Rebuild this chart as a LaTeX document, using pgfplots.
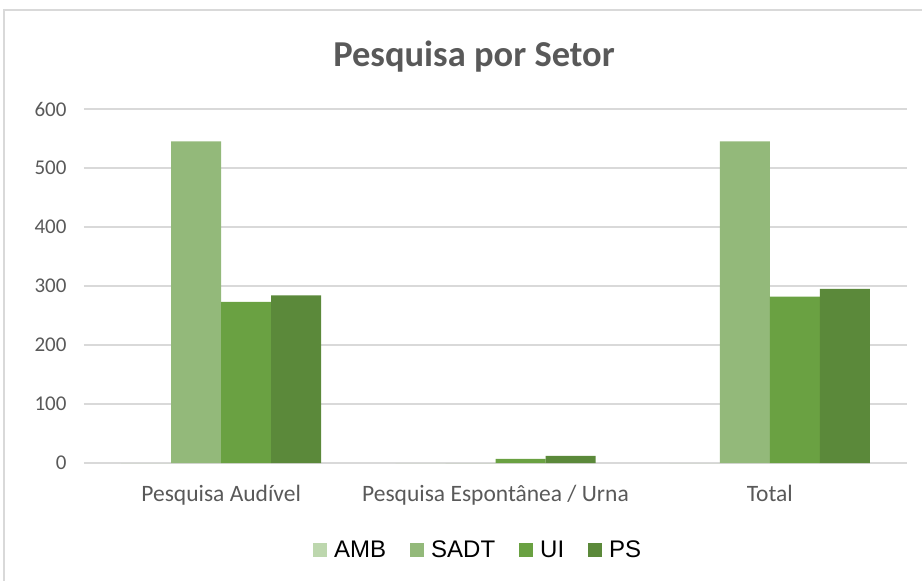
\documentclass[border=0pt]{standalone}
\usepackage{pgfplots}
\pgfplotsset{compat=1.18}
\usepackage{fontspec}
\setmainfont{Carlito}
\newfontfamily\legfont{Liberation Sans}
\definecolor{amb}{HTML}{BDD7AE}
\definecolor{sadt}{HTML}{93B97A}
\definecolor{ui}{HTML}{6AA142}
\definecolor{ps}{HTML}{5B893A}
\definecolor{txtgray}{HTML}{595959}
\definecolor{gridgray}{HTML}{D9D9D9}
\begin{document}
\begin{tikzpicture}
\path[use as bounding box] (0pt,0pt) rectangle (922pt,-581pt);
\draw[gridgray, line width=1.5pt] (4pt,-581pt) -- (4pt,-10pt) -- (922pt,-10pt);
\node[font=\fontsize{36.5}{42}\selectfont\bfseries, text=txtgray] at (474pt,-57pt) {Pesquisa por Setor};
\begin{axis}[
  at={(84pt,-463pt)}, anchor=south west,
  width=823pt, height=354pt, scale only axis,
  ymin=0, ymax=600, ytick={0,100,...,600},
  xmin=-0.5, xmax=2.5, xtick={0,1,2},
  xticklabels={Pesquisa Audível, Pesquisa Espontânea / Urna, Total},
  ybar=0pt, bar width=50pt,
  axis line style={draw=none},
  major tick length=0pt,
  ymajorgrids, grid style={gridgray, line width=1.3pt},
  /pgf/number format/assume math mode=true,
  tick label style={text=txtgray},
  yticklabel style={font=\fontsize{21}{24}\selectfont, xshift=-14pt},
  xticklabel style={font=\fontsize{23.5}{26}\selectfont, yshift=-19pt},
  legend style={at={(0.479,-0.246)}, anchor=center, draw=none, fill=none,
    font=\legfont\fontsize{24}{27}\selectfont, legend columns=4,
    /tikz/every odd column/.append style={column sep=5pt},
    /tikz/every even column/.append style={column sep=22pt}},
  legend image code/.code={\fill[#1] (0pt,-7pt) rectangle (14pt,7pt);},
]
\addplot[fill=amb, draw=none] coordinates {(0,0) (1,0) (2,0)};
\addplot[fill=sadt, draw=none] coordinates {(0,545) (1,0) (2,545)};
\addplot[fill=ui, draw=none] coordinates {(0,273) (1,7) (2,282)};
\addplot[fill=ps, draw=none] coordinates {(0,284) (1,12) (2,295)};
\legend{AMB, SADT, UI, PS}
\end{axis}
\end{tikzpicture}
\end{document}
